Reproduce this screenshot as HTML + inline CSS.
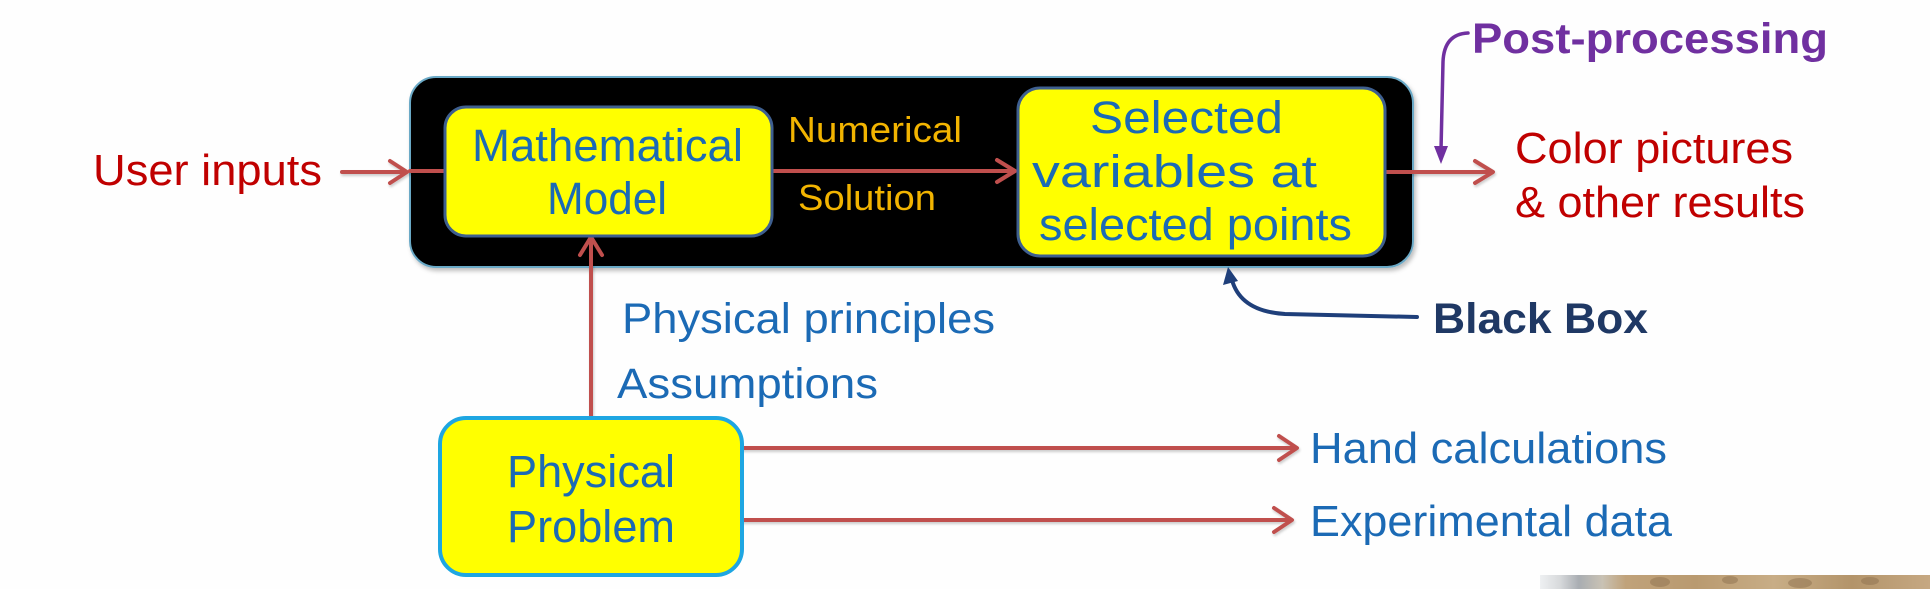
<!DOCTYPE html>
<html>
<head>
<meta charset="utf-8">
<style>
html,body{margin:0;padding:0;background:#fefefe;}
svg{display:block;}
text{font-family:"Liberation Sans",Arial,sans-serif;}
</style>
</head>
<body>
<svg width="1930" height="589" viewBox="0 0 1930 589" xmlns="http://www.w3.org/2000/svg">
<defs>
<filter id="sh" x="-5%" y="-5%" width="110%" height="120%">
<feDropShadow dx="2" dy="3" stdDeviation="2" flood-color="#000" flood-opacity="0.25"/>
</filter>
<filter id="lsh" x="-5%" y="-50%" width="110%" height="200%">
<feDropShadow dx="1" dy="2" stdDeviation="1.2" flood-color="#000" flood-opacity="0.2"/>
</filter>
<linearGradient id="photo" x1="0" x2="1" y1="0" y2="0">
<stop offset="0" stop-color="#eef0f2"/>
<stop offset="0.05" stop-color="#d8dadc"/>
<stop offset="0.1" stop-color="#a9adb2"/>
<stop offset="0.16" stop-color="#c9c2b4"/>
<stop offset="0.22" stop-color="#c0a27a"/>
<stop offset="0.4" stop-color="#b99a70"/>
<stop offset="0.6" stop-color="#c8ad86"/>
<stop offset="0.8" stop-color="#b3946a"/>
<stop offset="1" stop-color="#c6a882"/>
</linearGradient>
</defs>

<rect x="0" y="0" width="1930" height="589" fill="#fefefe"/>

<!-- Black box -->
<rect x="410" y="77" width="1003" height="190" rx="26" ry="26" fill="#000" stroke="#6aa9c6" stroke-width="2" filter="url(#sh)"/>

<!-- red connectors -->
<g stroke="#c0504d" stroke-width="4" fill="none" stroke-linecap="round" stroke-linejoin="round" filter="url(#lsh)">
  <!-- user inputs arrow -->
  <line x1="342" y1="172" x2="406" y2="172"/>
  <polyline points="390,161 407,172 390,183"/>
  <line x1="410" y1="171" x2="446" y2="171"/>
  <!-- numerical solution arrow -->
  <line x1="772" y1="171" x2="1014" y2="171"/>
  <polyline points="997,160 1015,171 997,182"/>
  <!-- output arrow -->
  <line x1="1385" y1="172" x2="1492" y2="172"/>
  <polyline points="1475,161 1493,172 1475,183"/>
  <!-- up arrow -->
  <line x1="591" y1="418" x2="591" y2="238"/>
  <polyline points="580,255 591,237 602,255"/>
  <!-- hand calc arrow -->
  <line x1="742" y1="448" x2="1296" y2="448"/>
  <polyline points="1279,436 1297,448 1279,460"/>
  <!-- experimental arrow -->
  <line x1="742" y1="520" x2="1291" y2="520"/>
  <polyline points="1274,508 1292,520 1274,532"/>
</g>

<!-- Mathematical Model box -->
<rect x="445" y="107" width="327" height="129" rx="21" ry="21" fill="#ffff00" stroke="#3e5f8f" stroke-width="3"/>
<text x="472" y="161" font-size="45" fill="#1b6ab5" textLength="271" lengthAdjust="spacingAndGlyphs">Mathematical</text>
<text x="547" y="214" font-size="45" fill="#1b6ab5" textLength="120" lengthAdjust="spacingAndGlyphs">Model</text>

<!-- Numerical / Solution -->
<text x="788" y="142" font-size="36" fill="#f2b400" textLength="174" lengthAdjust="spacingAndGlyphs">Numerical</text>
<text x="798" y="210" font-size="36" fill="#f2b400" textLength="138" lengthAdjust="spacingAndGlyphs">Solution</text>

<!-- Selected variables box -->
<rect x="1018" y="88" width="367" height="168" rx="22" ry="22" fill="#ffff00" stroke="#3e5f8f" stroke-width="3"/>
<text x="1090" y="133" font-size="45" fill="#1b6ab5" textLength="193" lengthAdjust="spacingAndGlyphs">Selected</text>
<text x="1032" y="187" font-size="45" fill="#1b6ab5" textLength="285" lengthAdjust="spacingAndGlyphs">variables at</text>
<text x="1039" y="240" font-size="45" fill="#1b6ab5" textLength="313" lengthAdjust="spacingAndGlyphs">selected points</text>

<!-- User inputs -->
<text x="93" y="185" font-size="44" fill="#c00000" textLength="229" lengthAdjust="spacingAndGlyphs">User inputs</text>

<!-- Post-processing -->
<path d="M1468,33 Q1444,34 1443,62 L1441,150" fill="none" stroke="#7030a0" stroke-width="3.5" stroke-linecap="round"/>
<polygon points="1434,146 1448,146 1441,164" fill="#7030a0"/>
<text x="1472" y="53" font-size="43" font-weight="bold" fill="#7030a0" textLength="356" lengthAdjust="spacingAndGlyphs">Post-processing</text>

<!-- Color pictures -->
<text x="1515" y="163" font-size="44" fill="#c00000" textLength="278" lengthAdjust="spacingAndGlyphs">Color pictures</text>
<text x="1515" y="217" font-size="44" fill="#c00000" textLength="290" lengthAdjust="spacingAndGlyphs">&amp; other results</text>

<!-- Black Box label with curved arrow -->
<path d="M1417,317 L1285,314 C1252,312 1237,298 1232,280" fill="none" stroke="#1f3f7a" stroke-width="4" stroke-linecap="round"/>
<polygon points="1228,267 1223,285 1238,281" fill="#1f3f7a"/>
<text x="1433" y="333" font-size="43" font-weight="bold" fill="#1f3864" textLength="215" lengthAdjust="spacingAndGlyphs">Black Box</text>

<!-- Physical principles / Assumptions -->
<text x="622" y="333" font-size="43" fill="#1b6ab5" textLength="373" lengthAdjust="spacingAndGlyphs">Physical principles</text>
<text x="617" y="398" font-size="43" fill="#1b6ab5" textLength="261" lengthAdjust="spacingAndGlyphs">Assumptions</text>

<!-- Physical Problem box -->
<rect x="440" y="418" width="302" height="157" rx="26" ry="26" fill="#ffff00" stroke="#1ea6e2" stroke-width="4"/>
<text x="507" y="487" font-size="45" fill="#1b6ab5" textLength="168" lengthAdjust="spacingAndGlyphs">Physical</text>
<text x="507" y="542" font-size="45" fill="#1b6ab5" textLength="168" lengthAdjust="spacingAndGlyphs">Problem</text>

<!-- Hand calculations / Experimental data -->
<text x="1310" y="463" font-size="44" fill="#1b6ab5" textLength="357" lengthAdjust="spacingAndGlyphs">Hand calculations</text>
<text x="1310" y="536" font-size="44" fill="#1b6ab5" textLength="362" lengthAdjust="spacingAndGlyphs">Experimental data</text>

<!-- bottom-right photo strip -->
<rect x="1540" y="575" width="390" height="14" fill="url(#photo)"/>
<g fill="#8f7250" opacity="0.5">
  <ellipse cx="1660" cy="582" rx="10" ry="5"/>
  <ellipse cx="1730" cy="580" rx="8" ry="4"/>
  <ellipse cx="1800" cy="583" rx="12" ry="5"/>
  <ellipse cx="1870" cy="581" rx="9" ry="4"/>
</g>
</svg>
</body>
</html>
